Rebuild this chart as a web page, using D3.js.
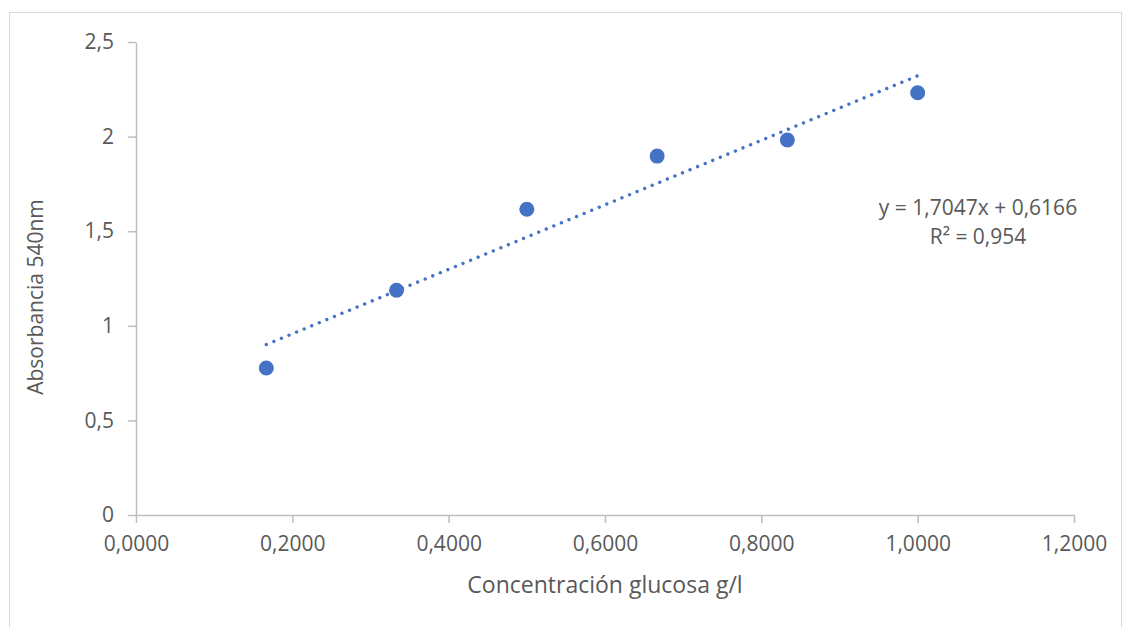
<!DOCTYPE html>
<html>
<head>
<meta charset="utf-8">
<script src="https://cdn.jsdelivr.net/npm/d3@7"></script>
<style>
  html, body { margin: 0; padding: 0; background: #fff; }
  svg { display: block; }
  text { font-family: "Open Sans", "Liberation Sans", sans-serif; fill: #595959; }
</style>
</head>
<body>
<svg id="chart" width="1123" height="627"></svg>
<script>
// Glucose calibration: concentration (g/l) vs absorbance at 540 nm
const concentration = [0.1667, 0.3333, 0.5000, 0.6667, 0.8333, 1.0000];
const absorbance = [0.777, 1.188, 1.616, 1.897, 1.982, 2.232];
const xTicks = [0, 0.2, 0.4, 0.6, 0.8, 1.0, 1.2];
const yTicks = [0, 0.5, 1, 1.5, 2, 2.5];
const trendSlope = 1.7047;
const trendIntercept = 0.6166;
const equationLines = ["y = 1,7047x + 0,6166", "R² = 0,954"];

const svg = d3.select("#chart");
const plot = { left: 136, right: 1074, top: 42, bottom: 515 };
const blue = "#4472C4";
const axisColor = "#bfbfbf";

// Chart frame
svg.append("rect")
  .attr("x", 9.5).attr("y", 12.5)
  .attr("width", 1112).attr("height", 640)
  .attr("fill", "none").attr("stroke", "#d9d9d9").attr("stroke-width", 1);

const x = d3.scaleLinear().domain([0, 1.2]).range([plot.left, plot.right]);
const y = d3.scaleLinear().domain([0, 2.5]).range([plot.bottom, plot.top]);

const fmtX = v => d3.format(".4f")(v).replace(".", ",");
const fmtY = v => String(v).replace(".", ",");

// Y axis
const yAxis = svg.append("g")
  .attr("transform", `translate(${plot.left},0)`)
  .call(d3.axisLeft(y).tickValues(yTicks).tickFormat(fmtY).tickSize(8).tickPadding(14).tickSizeOuter(0));
yAxis.select(".domain").attr("stroke", axisColor).attr("stroke-width", 1.5);
yAxis.selectAll(".tick line").attr("stroke", axisColor).attr("stroke-width", 1.5);
yAxis.selectAll(".tick text").attr("font-size", 21).attr("fill", "#595959")
  .attr("font-family", "'Open Sans', sans-serif");

// X axis
const xAxis = svg.append("g")
  .attr("transform", `translate(0,${plot.bottom})`)
  .call(d3.axisBottom(x).tickValues(xTicks).tickFormat(fmtX).tickSize(8).tickPadding(13).tickSizeOuter(0));
xAxis.select(".domain").attr("stroke", axisColor).attr("stroke-width", 1.5);
xAxis.selectAll(".tick line").attr("stroke", axisColor).attr("stroke-width", 1.5);
xAxis.selectAll(".tick text").attr("font-size", 21).attr("fill", "#595959")
  .attr("font-family", "'Open Sans', sans-serif");

// Linear trendline over the data range, round dots spaced to land on both ends
const xMin = d3.min(concentration), xMax = d3.max(concentration);
const x1 = x(xMin), y1 = y(trendSlope * xMin + trendIntercept);
const x2 = x(xMax), y2 = y(trendSlope * xMax + trendIntercept);
const len = Math.hypot(x2 - x1, y2 - y1);
const gap = (len / Math.round(len / 8.2)) * 0.999;
svg.append("line")
  .attr("x1", x1).attr("y1", y1).attr("x2", x2).attr("y2", y2)
  .attr("stroke", blue).attr("stroke-width", 3.4)
  .attr("stroke-linecap", "round").attr("stroke-dasharray", `0.01 ${gap - 0.01}`);

// Data points
svg.append("g").selectAll("circle")
  .data(concentration.map((c, i) => [c, absorbance[i]]))
  .join("circle")
  .attr("cx", d => x(d[0])).attr("cy", d => y(d[1]))
  .attr("r", 7.5).attr("fill", blue);

// Trendline equation
svg.append("g").selectAll("text")
  .data(equationLines)
  .join("text")
  .attr("x", 978).attr("y", (d, i) => 215 + i * 29)
  .attr("text-anchor", "middle").attr("font-size", 21)
  .text(d => d);

// Axis titles
svg.append("text")
  .attr("x", 605).attr("y", 593)
  .attr("text-anchor", "middle").attr("font-size", 23)
  .text("Concentración glucosa g/l");

svg.append("text")
  .attr("transform", `translate(43,297) rotate(-90)`)
  .attr("text-anchor", "middle").attr("font-size", 21)
  .text("Absorbancia 540nm");
</script>
</body>
</html>
